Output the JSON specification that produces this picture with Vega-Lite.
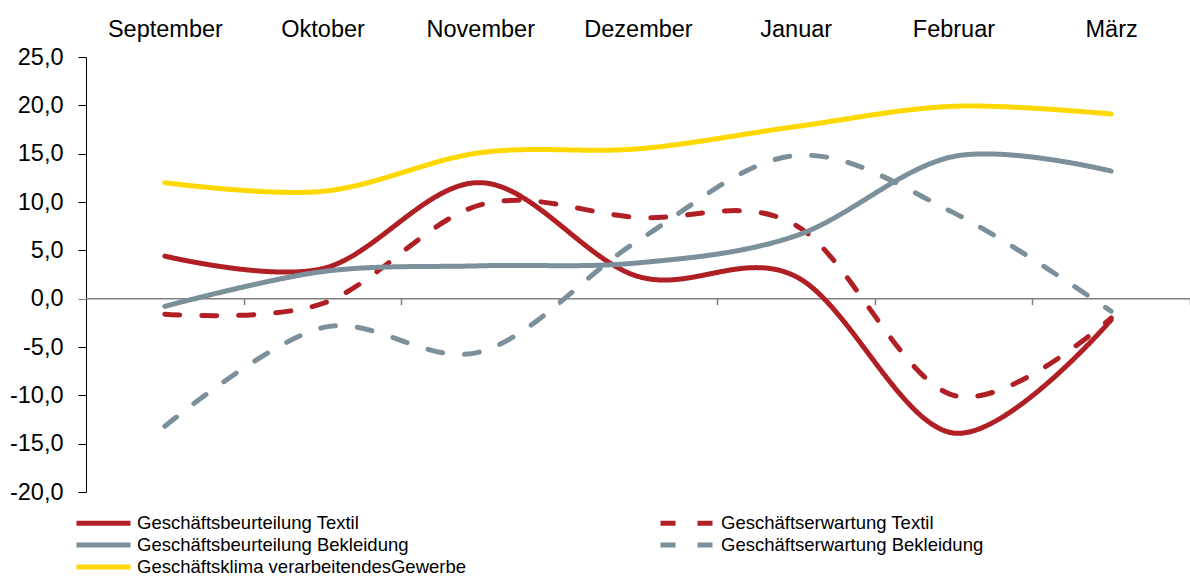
{
  "$schema": "https://vega.github.io/schema/vega-lite/v6.json",
  "width": 1104,
  "height": 435,
  "autosize": {"type": "none"},
  "padding": {"left": 86, "top": 57, "right": 0, "bottom": 84},
  "config": {"view": {"stroke": null}, "font": "Liberation Sans"},
  "data": {"values": [
    {"m": 0, "Monat": "September", "Serie": "Geschäftsbeurteilung Textil", "Wert": 4.4},
    {"m": 1, "Monat": "Oktober", "Serie": "Geschäftsbeurteilung Textil", "Wert": 3.1},
    {"m": 2, "Monat": "November", "Serie": "Geschäftsbeurteilung Textil", "Wert": 12.0},
    {"m": 3, "Monat": "Dezember", "Serie": "Geschäftsbeurteilung Textil", "Wert": 2.3},
    {"m": 4, "Monat": "Januar", "Serie": "Geschäftsbeurteilung Textil", "Wert": 2.3},
    {"m": 5, "Monat": "Februar", "Serie": "Geschäftsbeurteilung Textil", "Wert": -13.9},
    {"m": 6, "Monat": "März", "Serie": "Geschäftsbeurteilung Textil", "Wert": -2.2},
    {"m": 0, "Monat": "September", "Serie": "Geschäftserwartung Textil", "Wert": -1.6},
    {"m": 1, "Monat": "Oktober", "Serie": "Geschäftserwartung Textil", "Wert": -0.5},
    {"m": 2, "Monat": "November", "Serie": "Geschäftserwartung Textil", "Wert": 9.7},
    {"m": 3, "Monat": "Dezember", "Serie": "Geschäftserwartung Textil", "Wert": 8.4},
    {"m": 4, "Monat": "Januar", "Serie": "Geschäftserwartung Textil", "Wert": 7.6},
    {"m": 5, "Monat": "Februar", "Serie": "Geschäftserwartung Textil", "Wert": -10.0},
    {"m": 6, "Monat": "März", "Serie": "Geschäftserwartung Textil", "Wert": -2.0},
    {"m": 0, "Monat": "September", "Serie": "Geschäftsbeurteilung Bekleidung", "Wert": -0.8},
    {"m": 1, "Monat": "Oktober", "Serie": "Geschäftsbeurteilung Bekleidung", "Wert": 2.8},
    {"m": 2, "Monat": "November", "Serie": "Geschäftsbeurteilung Bekleidung", "Wert": 3.4},
    {"m": 3, "Monat": "Dezember", "Serie": "Geschäftsbeurteilung Bekleidung", "Wert": 3.7},
    {"m": 4, "Monat": "Januar", "Serie": "Geschäftsbeurteilung Bekleidung", "Wert": 6.5},
    {"m": 5, "Monat": "Februar", "Serie": "Geschäftsbeurteilung Bekleidung", "Wert": 14.7},
    {"m": 6, "Monat": "März", "Serie": "Geschäftsbeurteilung Bekleidung", "Wert": 13.2},
    {"m": 0, "Monat": "September", "Serie": "Geschäftserwartung Bekleidung", "Wert": -13.2},
    {"m": 1, "Monat": "Oktober", "Serie": "Geschäftserwartung Bekleidung", "Wert": -3.0},
    {"m": 2, "Monat": "November", "Serie": "Geschäftserwartung Bekleidung", "Wert": -5.5},
    {"m": 3, "Monat": "Dezember", "Serie": "Geschäftserwartung Bekleidung", "Wert": 6.0},
    {"m": 4, "Monat": "Januar", "Serie": "Geschäftserwartung Bekleidung", "Wert": 14.8},
    {"m": 5, "Monat": "Februar", "Serie": "Geschäftserwartung Bekleidung", "Wert": 8.9},
    {"m": 6, "Monat": "März", "Serie": "Geschäftserwartung Bekleidung", "Wert": -1.3},
    {"m": 0, "Monat": "September", "Serie": "Geschäftsklima verarbeitendesGewerbe", "Wert": 12.0},
    {"m": 1, "Monat": "Oktober", "Serie": "Geschäftsklima verarbeitendesGewerbe", "Wert": 11.1},
    {"m": 2, "Monat": "November", "Serie": "Geschäftsklima verarbeitendesGewerbe", "Wert": 15.1},
    {"m": 3, "Monat": "Dezember", "Serie": "Geschäftsklima verarbeitendesGewerbe", "Wert": 15.5},
    {"m": 4, "Monat": "Januar", "Serie": "Geschäftsklima verarbeitendesGewerbe", "Wert": 17.8},
    {"m": 5, "Monat": "Februar", "Serie": "Geschäftsklima verarbeitendesGewerbe", "Wert": 19.9},
    {"m": 6, "Monat": "März", "Serie": "Geschäftsklima verarbeitendesGewerbe", "Wert": 19.1}
  ]},
  "layer": [
    {
      "data": {"values": [{"z": 0}]},
      "mark": {"type": "rule", "color": "#808080", "strokeWidth": 1.5},
      "encoding": {
        "x": {"datum": -0.5, "type": "quantitative",
          "scale": {"domain": [-0.5, 6.5], "nice": false, "zero": false},
          "axis": {"orient": "bottom", "offset": -193.33, "values": [0.5, 1.5, 2.5, 3.5, 4.5, 5.5, 6.5], "labels": false, "domain": false, "ticks": true, "tickColor": "#808080", "tickSize": 6, "tickWidth": 1.5, "title": null, "grid": false}},
        "x2": {"datum": 6.5},
        "y": {"field": "z", "type": "quantitative",
          "scale": {"domain": [-20, 25], "nice": false, "zero": false},
          "axis": {"values": [-20, -15, -10, -5, 0, 5, 10, 15, 20, 25], "labelExpr": "(datum.value < 0 ? '-' : '') + replace(format(abs(datum.value), '.1f'), '.', ',')", "domainColor": "#000000", "tickColor": {"condition": {"test": "datum.value === 0", "value": "#808080"}, "value": "#000000"}, "tickSize": 8, "tickWidth": 1, "domainWidth": 1, "labelPadding": 15, "labelFontSize": 23.5, "labelColor": "#000000", "labelOverlap": false, "grid": false, "title": null}}
      }
    },
    {
      "mark": {"type": "line", "interpolate": "cardinal", "strokeWidth": 5, "strokeCap": "round"},
      "encoding": {
        "x": {"field": "m", "type": "quantitative",
          "scale": {"domain": [-0.5, 6.5], "nice": false, "zero": false},
          "axis": {"orient": "top", "values": [0, 1, 2, 3, 4, 5, 6], "labelExpr": "['September','Oktober','November','Dezember','Januar','Februar','März'][datum.value]", "domain": false, "ticks": false, "tickSize": 0, "labelPadding": 21, "labelBaseline": "alphabetic", "labelFontSize": 23.5, "labelColor": "#000000", "labelOverlap": false, "labelFlush": false, "grid": false, "title": null}},
        "y": {"field": "Wert", "type": "quantitative",
          "scale": {"domain": [-20, 25], "nice": false, "zero": false},
          "axis": {"values": [-20, -15, -10, -5, 0, 5, 10, 15, 20, 25], "labelExpr": "(datum.value < 0 ? '-' : '') + replace(format(abs(datum.value), '.1f'), '.', ',')", "domainColor": "#000000", "tickColor": {"condition": {"test": "datum.value === 0", "value": "#808080"}, "value": "#000000"}, "tickSize": 8, "tickWidth": 1, "domainWidth": 1, "labelPadding": 15, "labelFontSize": 23.5, "labelColor": "#000000", "labelOverlap": false, "grid": false, "title": null}},
        "color": {"field": "Serie", "type": "nominal",
          "scale": {"domain": ["Geschäftsbeurteilung Textil", "Geschäftsbeurteilung Bekleidung", "Geschäftsklima verarbeitendesGewerbe", "Geschäftserwartung Textil", "Geschäftserwartung Bekleidung"],
                    "range": ["#B01F24", "#7B909A", "#FFD800", "#B01F24", "#7B909A"]},
          "legend": {"orient": "none", "legendX": -12, "legendY": 454.5, "columns": 2, "columnPadding": 183, "rowPadding": 0, "symbolType": "M-1,0H5", "symbolSize": 324, "symbolStrokeWidth": 5, "labelFontSize": 18.5, "labelColor": "#000000", "labelOffset": 40, "labelLimit": 0, "title": null}},
        "strokeDash": {"field": "Serie", "type": "nominal",
          "scale": {"domain": ["Geschäftsbeurteilung Textil", "Geschäftsbeurteilung Bekleidung", "Geschäftsklima verarbeitendesGewerbe", "Geschäftserwartung Textil", "Geschäftserwartung Bekleidung"],
                    "range": [[1, 0], [1, 0], [1, 0], [15, 22], [15, 22]]},
          "legend": {"orient": "none", "legendX": -12, "legendY": 454.5, "columns": 2, "columnPadding": 183, "rowPadding": 0, "symbolType": "M-1,0H5", "symbolSize": 324, "symbolStrokeWidth": 5, "labelFontSize": 18.5, "labelColor": "#000000", "labelOffset": 40, "labelLimit": 0, "title": null}}
      }
    }
  ],
  "resolve": {"axis": {"x": "independent"}}
}
